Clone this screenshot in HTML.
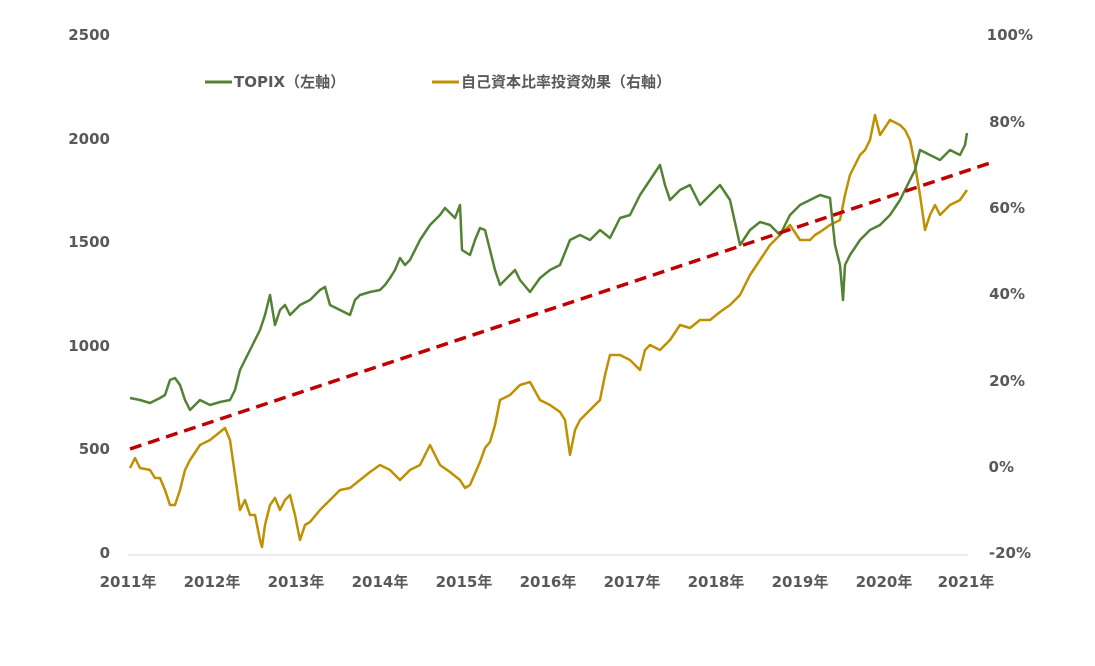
<!DOCTYPE html>
<html><head><meta charset="utf-8"><style>
html,body{margin:0;padding:0;background:#fff;}
svg text{font-family:"DejaVu Sans","Noto Sans CJK JP",sans-serif;font-weight:bold;fill:#595959;font-size:15px;}
</style></head><body>
<svg width="1095" height="661" viewBox="0 0 1095 661" xmlns="http://www.w3.org/2000/svg">
<g text-anchor="end">
<text x="110" y="40">2500</text><text x="110" y="144">2000</text><text x="110" y="247">1500</text>
<text x="110" y="351">1000</text><text x="110" y="454">500</text><text x="110" y="558">0</text>
</g>
<g text-anchor="end">
<text x="1033" y="40">100%</text><text x="1025" y="127">80%</text><text x="1025" y="213">60%</text>
<text x="1025" y="299">40%</text><text x="1025" y="386">20%</text><text x="1014" y="472">0%</text><text x="1031" y="558">-20%</text>
</g>
<line x1="128" y1="555" x2="968" y2="555" stroke="#d9d9d9" stroke-width="1"/>
<g text-anchor="middle">
<text x="128" y="587">2011年</text><text x="212" y="587">2012年</text><text x="296" y="587">2013年</text>
<text x="380" y="587">2014年</text><text x="464" y="587">2015年</text><text x="548" y="587">2016年</text>
<text x="632" y="587">2017年</text><text x="716" y="587">2018年</text><text x="800" y="587">2019年</text>
<text x="884" y="587">2020年</text><text x="966" y="587">2021年</text>
</g>
<line x1="205" y1="82" x2="232" y2="82" stroke="#548235" stroke-width="3"/>
<text x="234" y="87">TOPIX（左軸）</text>
<line x1="432" y1="82" x2="459" y2="82" stroke="#BF9000" stroke-width="3"/>
<text x="461" y="87">自己資本比率投資効果（右軸）</text>
<polyline fill="none" stroke="#BF9000" stroke-width="2.5" stroke-linejoin="round" points="130,468 135,458 140,468 150,470 155,478 160,478 165,490 170,505 175,505 180,490 185,470 190,460 200,445 210,440 220,432 225,428 230,440 235,475 240,510 245,500 250,515 255,515 260,540 262,547 265,525 270,505 275,498 280,510 285,500 290,495 295,515 300,540 305,525 310,522 320,510 330,500 340,490 350,488 360,480 370,472 380,465 390,470 400,480 410,470 420,465 430,445 440,465 450,472 460,480 465,488 470,485 480,462 485,448 490,442 495,425 500,400 510,395 520,385 530,382 540,400 550,405 560,412 565,420 570,455 575,430 580,420 590,410 600,400 605,375 610,355 620,355 630,360 640,370 645,350 650,345 660,350 670,340 680,325 690,328 700,320 710,320 720,312 730,305 735,300 740,295 745,285 750,275 760,260 770,245 780,235 790,225 800,240 810,240 815,235 820,232 830,225 840,220 845,195 850,175 855,165 860,155 865,150 870,140 875,115 880,135 890,120 900,125 905,130 910,140 915,165 920,195 925,230 930,215 935,205 940,215 950,205 960,200 967,190"/>
<polyline fill="none" stroke="#548235" stroke-width="2.5" stroke-linejoin="round" points="130,398 140,400 150,403 160,398 165,395 170,380 175,378 180,385 185,400 190,410 200,400 210,405 220,402 230,400 235,390 240,370 245,360 250,350 255,340 260,330 265,315 270,295 275,325 280,310 285,305 290,315 300,305 310,300 320,290 325,287 330,305 340,310 350,315 355,300 360,295 370,292 380,290 385,285 390,278 395,270 400,258 405,265 410,260 420,240 430,225 440,215 445,208 450,213 455,218 460,205 462,250 470,255 475,240 480,228 485,230 490,250 495,270 500,285 510,275 515,270 520,280 530,292 540,278 550,270 560,265 570,240 580,235 590,240 600,230 610,238 620,218 630,215 640,195 650,180 660,165 665,185 670,200 680,190 690,185 700,205 710,195 720,185 730,200 740,245 750,230 760,222 770,225 780,235 790,215 800,205 810,200 820,195 830,198 835,245 840,265 843,300 845,265 850,255 860,240 870,230 880,225 890,215 900,200 910,180 915,170 920,150 930,155 940,160 950,150 960,155 965,145 967,133"/>
<line x1="130" y1="449" x2="993" y2="162" stroke="#C00000" stroke-width="3.5" stroke-dasharray="12,7"/>
</svg>
</body></html>
